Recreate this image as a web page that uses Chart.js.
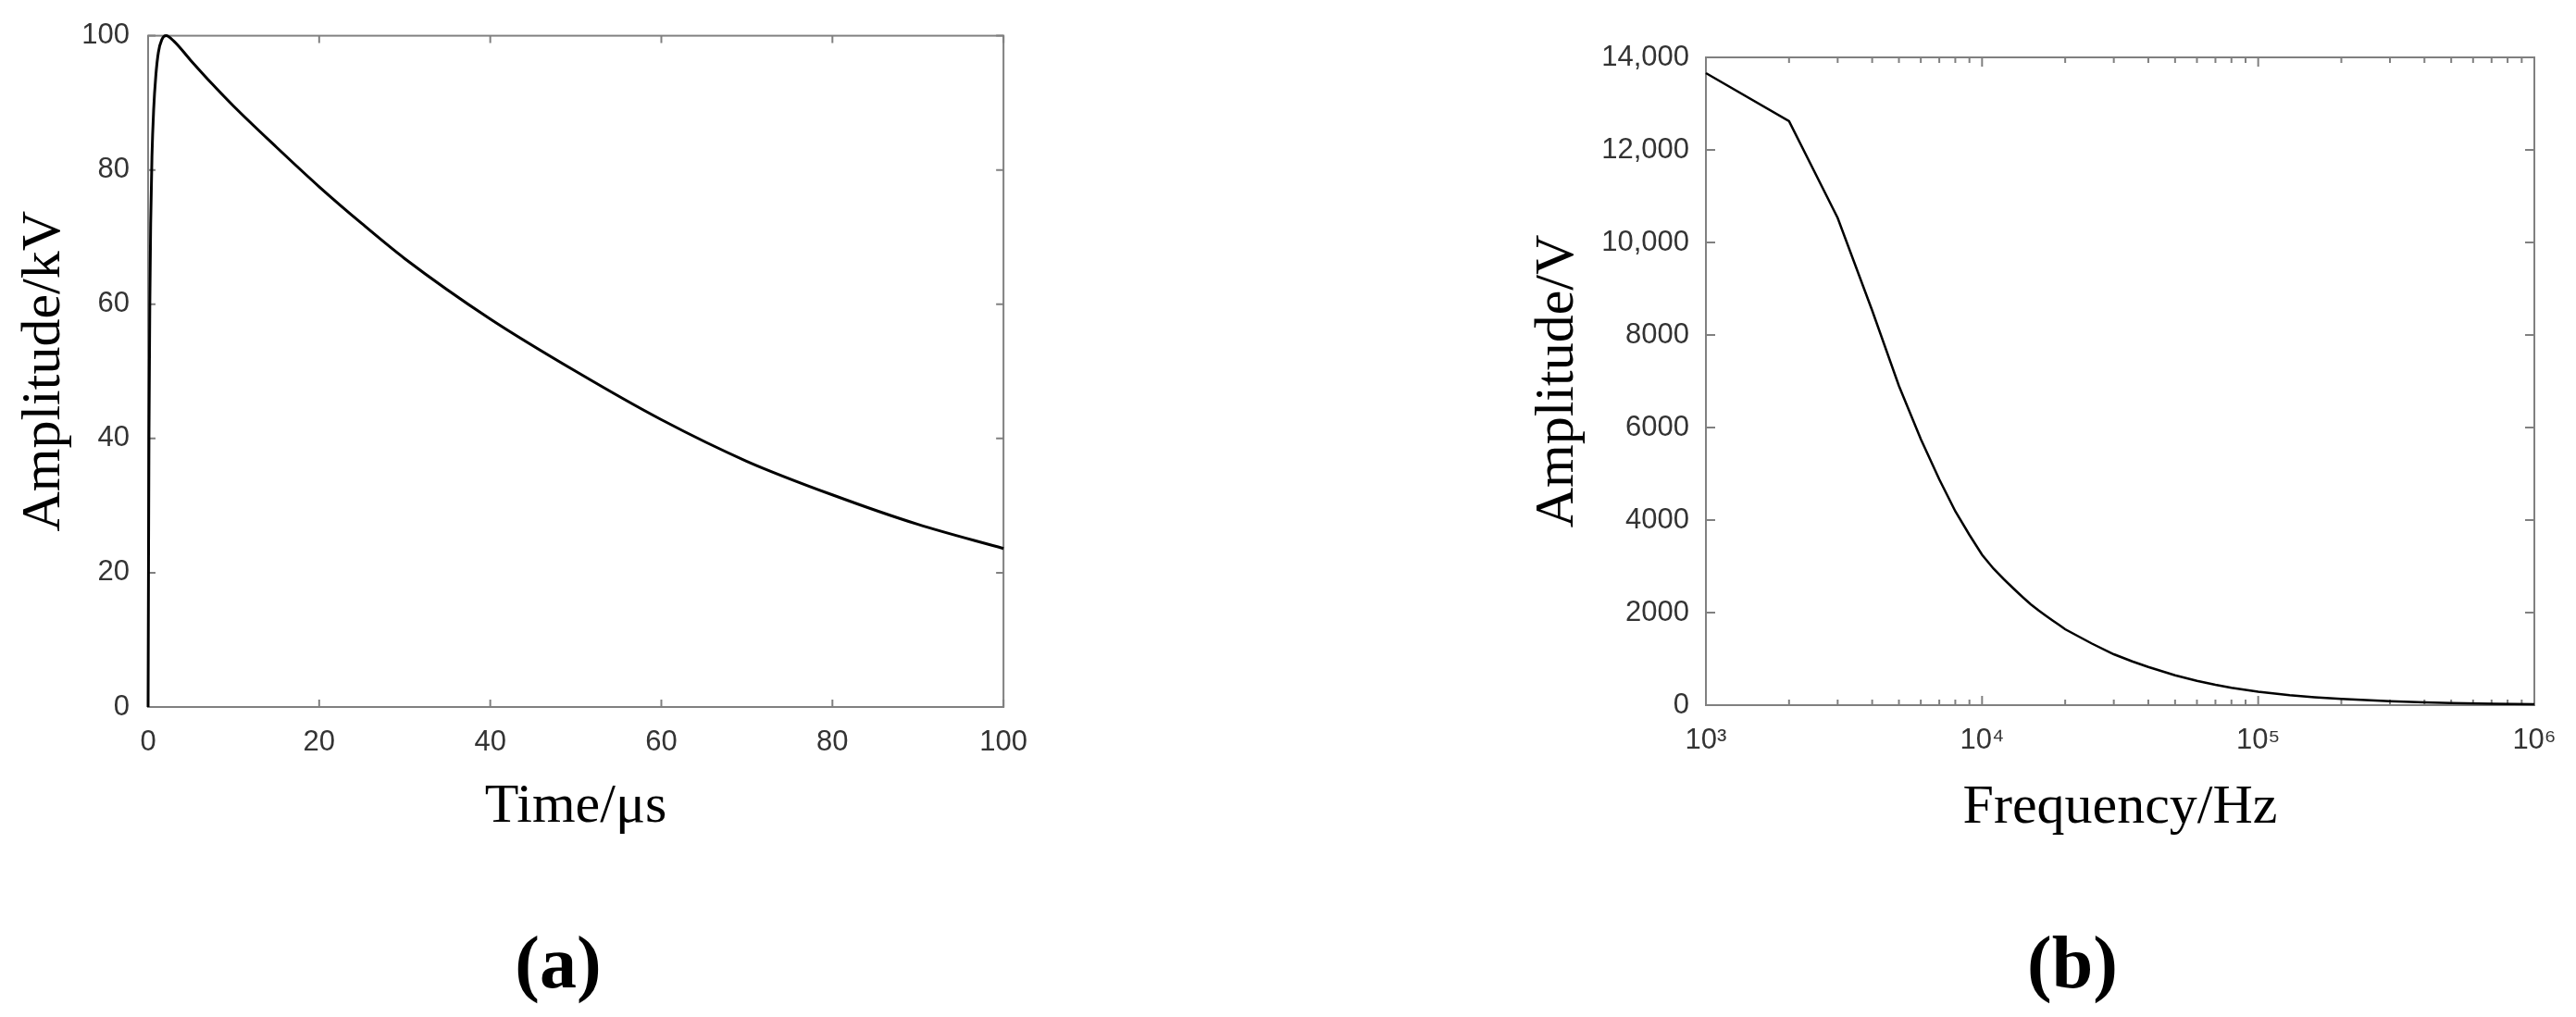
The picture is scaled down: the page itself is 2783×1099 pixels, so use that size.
<!DOCTYPE html>
<html>
<head>
<meta charset="utf-8">
<script src="https://cdn.jsdelivr.net/npm/chart.js@4/dist/chart.umd.min.js"></script>
<style>
  html, body { margin: 0; padding: 0; background: #fff; }
  body { width: 2783px; height: 1099px; position: relative; overflow: hidden; }
  .box { position: absolute; top: 0; }
  .tag { position: absolute; top: 995px; width: 200px; height: 80px; line-height: 80px;
         text-align: center; font: bold 80px "Liberation Serif", serif; color: #000; }
</style>
</head>
<body>
<div class="box" style="left:0;width:1130px;height:908px"><canvas id="chartA"></canvas></div>
<div class="box" style="left:1640px;width:1143px;height:909px"><canvas id="chartB"></canvas></div>
<div class="tag" style="left:503px">(a)</div>
<div class="tag" style="left:2139px">(b)</div>
<script>
// (a) impulse waveform
const timeUs = [0, 0.05, 0.1, 0.2, 0.3, 0.45, 0.65, 0.9, 1.2, 1.6, 2.1, 3, 5, 7.5, 10, 15, 20, 25, 30, 40, 50, 60, 70, 80, 90, 100];
const amplitudeKv = [0, 22, 40, 60, 72, 82, 89, 94, 97.5, 99.4, 100, 99.2, 96.3, 92.8, 89.5, 83.4, 77.5, 72, 66.8, 57.8, 50, 42.8, 36.6, 31.6, 27.2, 23.6];
const timeTicks = [0, 20, 40, 60, 80, 100];
const kvTicks = [0, 20, 40, 60, 80, 100];

// (b) amplitude spectrum
const freqHz = [1000, 2000, 3000, 4000, 5000, 6000, 7000, 8000, 9000, 10000,
  11000, 12000, 13000, 14000, 15000, 16000, 17000, 18000, 19000, 20000,
  25000, 30000, 35000, 40000, 50000, 60000, 70000, 80000, 100000,
  130000, 160000, 200000, 300000, 400000, 500000, 700000, 1000000];
const amplitudeV = [13660, 12620, 10530, 8530, 6900, 5750, 4880, 4190, 3680, 3250,
  2950, 2720, 2520, 2340, 2180, 2050, 1935, 1830, 1735, 1640,
  1330, 1100, 945, 825, 645, 525, 440, 375, 290,
  215, 170, 134, 87, 62, 47, 30, 20];
const freqTicks = [1e3, 1e4, 1e5, 1e6];
const voltTicks = [0, 2000, 4000, 6000, 8000, 10000, 12000, 14000];

const tickFont = { family: '"Liberation Sans", Arial, sans-serif', size: 31 };
const titleFont = { family: '"Liberation Serif", serif', size: 60, lineHeight: 1.2 };
const sup = { '3': '\u00B3', '4': '\u2074', '5': '\u2075', '6': '\u2076' };

// box round the plot with inward ticks, like the matlab figures
const framePlugin = {
  id: 'frame',
  beforeDatasetsDraw(chart, args, opts) {
    const { ctx, chartArea: a } = chart;
    const xs = chart.scales.x, ys = chart.scales.y;
    ctx.save();
    ctx.strokeStyle = '#808080';
    ctx.lineWidth = 2;
    ctx.beginPath();
    const tick = (x1, y1, x2, y2) => { ctx.moveTo(x1, y1); ctx.lineTo(x2, y2); };
    xs.ticks.forEach(t => {
      const px = xs.getPixelForValue(t.value);
      tick(px, a.bottom, px, a.bottom - opts.major);
      tick(px, a.top, px, a.top + opts.major);
    });
    if (opts.logMinor) {
      for (let d = xs.min; d < xs.max; d *= 10) {
        for (let k = 2; k <= 9; k++) {
          const px = xs.getPixelForValue(k * d);
          tick(px, a.bottom, px, a.bottom - opts.minor);
          tick(px, a.top, px, a.top + opts.minor);
        }
      }
    }
    ys.ticks.forEach(t => {
      const py = ys.getPixelForValue(t.value);
      tick(a.left, py, a.left + opts.major, py);
      tick(a.right, py, a.right - opts.major, py);
    });
    ctx.stroke();
    ctx.strokeRect(a.left, a.top, a.right - a.left, a.bottom - a.top);
    ctx.restore();
  }
};

function fixedTicks(list) {
  return scale => { scale.ticks = list.map(v => ({ value: v })); };
}

new Chart(document.getElementById('chartA'), {
  type: 'line',
  data: {
    datasets: [{
      data: timeUs.map((t, i) => ({ x: t, y: amplitudeKv[i] })),
      borderColor: '#000',
      borderWidth: 3,
      pointRadius: 0,
      cubicInterpolationMode: 'monotone',
      clip: 4
    }]
  },
  options: {
    responsive: true,
    maintainAspectRatio: false,
    animation: false,
    layout: { padding: { left: 12, top: 32, right: 37, bottom: 0 } },
    plugins: { legend: { display: false }, tooltip: { enabled: false }, frame: { major: 8, minor: 0 } },
    scales: {
      x: {
        type: 'linear', min: 0, max: 100,
        afterBuildTicks: fixedTicks(timeTicks),
        afterFit: s => { s.height = 144; },
        grid: { display: false, drawTicks: false },
        border: { display: false },
        ticks: { font: tickFont, color: '#333', padding: 20, maxRotation: 0 },
        title: { display: true, text: 'Time/\u03BCs', font: titleFont, color: '#000', padding: 0 }
      },
      y: {
        min: 0, max: 100,
        afterBuildTicks: fixedTicks(kvTicks),
        afterFit: s => { s.width = 148; },
        grid: { display: false, drawTicks: false },
        border: { display: false },
        ticks: { font: tickFont, color: '#333', padding: 20 },
        title: { display: true, text: 'Amplitude/kV', font: titleFont, color: '#000', padding: 0 }
      }
    }
  },
  plugins: [framePlugin]
});

new Chart(document.getElementById('chartB'), {
  type: 'line',
  data: {
    datasets: [{
      data: freqHz.map((f, i) => ({ x: f, y: amplitudeV[i] })),
      borderColor: '#000',
      borderWidth: 2.5,
      pointRadius: 0,
      tension: 0,
      clip: 4
    }]
  },
  options: {
    responsive: true,
    maintainAspectRatio: false,
    animation: false,
    layout: { padding: { left: 7, top: 62, right: 45, bottom: 0 } },
    plugins: { legend: { display: false }, tooltip: { enabled: false }, frame: { major: 10, minor: 6, logMinor: true } },
    scales: {
      x: {
        type: 'logarithmic', min: 1e3, max: 1e6,
        afterBuildTicks: fixedTicks(freqTicks),
        afterFit: s => { s.height = 147; },
        grid: { display: false, drawTicks: false },
        border: { display: false },
        ticks: {
          font: tickFont, color: '#333', padding: 20, maxRotation: 0, autoSkip: false,
          callback: v => '10' + sup[String(Math.round(Math.log10(v)))]
        },
        title: { display: true, text: 'Frequency/Hz', font: titleFont, color: '#000', padding: 0 }
      },
      y: {
        min: 0, max: 14000,
        afterBuildTicks: fixedTicks(voltTicks),
        afterFit: s => { s.width = 196; },
        grid: { display: false, drawTicks: false },
        border: { display: false },
        ticks: {
          font: tickFont, color: '#333', padding: 18,
          callback: v => v >= 10000 ? v.toLocaleString('en-US') : String(v)
        },
        title: { display: true, text: 'Amplitude/V', font: titleFont, color: '#000', padding: 0 }
      }
    }
  },
  plugins: [framePlugin]
});
</script>
</body>
</html>
